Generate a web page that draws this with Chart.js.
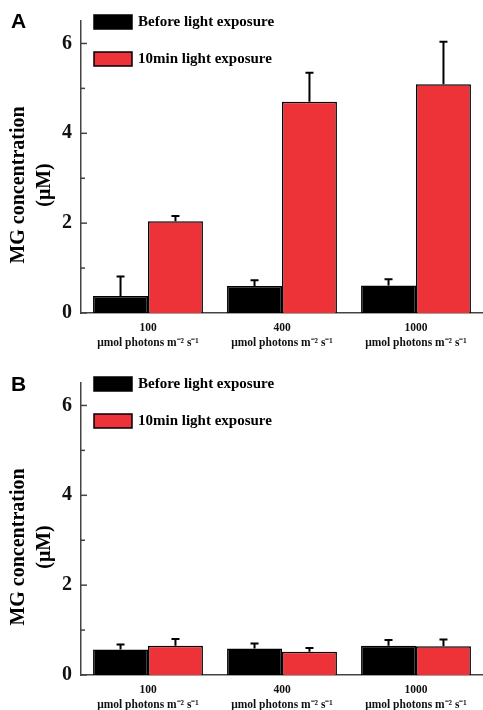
<!DOCTYPE html>
<html>
<head>
<meta charset="utf-8">
<script src="https://cdn.jsdelivr.net/npm/chart.js@4.4.1/dist/chart.umd.min.js"></script>
<style>
	body { margin: 0; background: #fff; }
	canvas { display: block; }
</style>
</head>
<body>
<canvas id="canvasA" width="483" height="362"></canvas>
<canvas id="canvasB" width="483" height="348"></canvas>
<script>
"use strict"

// data
var categories = ["100", "400", "1000"]
var unitLabel = "μmol photons m⁻² s⁻¹"
var seriesNames = ["Before light exposure", "10min light exposure"]
var yMajorTicks = [0, 2, 4, 6]
var yMinorTicks = [1, 3, 5]
var yTitle = ["MG concentration", "(μM)"]

// panel A
var beforeA = [0.38, 0.60, 0.61]
var beforeErrA = [0.43, 0.13, 0.14]
var afterA = [2.04, 4.70, 5.09]
var afterErrA = [0.12, 0.65, 0.95]

// panel B
var beforeB = [0.57, 0.59, 0.65]
var beforeErrB = [0.11, 0.11, 0.13]
var afterB = [0.65, 0.52, 0.64]
var afterErrB = [0.15, 0.08, 0.15]

var barColors = ["#000000", "#ed3238"]
var serif = "'Liberation Serif', 'Times New Roman', serif"

// custom drawing: error bars, inward ticks, legend, panel letter, y title
var decorPlugin = {
	id: "decor",
	afterDatasetsDraw: function (chart) {
		const ctx = chart.ctx
		const yScale = chart.scales.y
		ctx.save()
		ctx.strokeStyle = "#000"
		ctx.lineWidth = 2
		chart.data.datasets.forEach(function (ds, di) {
			const meta = chart.getDatasetMeta(di)
			meta.data.forEach(function (bar, i) {
				const yTop = yScale.getPixelForValue(ds.data[i] + ds.errors[i])
				ctx.beginPath()
				ctx.moveTo(bar.x, bar.y)
				ctx.lineTo(bar.x, yTop)
				ctx.moveTo(bar.x - 4, yTop)
				ctx.lineTo(bar.x + 4, yTop)
				ctx.stroke()
			})
		})
		ctx.restore()
	},
	afterDraw: function (chart) {
		const ctx = chart.ctx
		const yScale = chart.scales.y
		const area = chart.chartArea
		const opts = chart.options.plugins.decor
		ctx.save()

		// ticks pointing into the plot
		ctx.strokeStyle = "#444"
		ctx.lineWidth = 1.5
		yMajorTicks.forEach(function (v) {
			const y = yScale.getPixelForValue(v)
			ctx.beginPath()
			ctx.moveTo(area.left, y)
			ctx.lineTo(area.left + 6, y)
			ctx.stroke()
		})
		yMinorTicks.forEach(function (v) {
			const y = yScale.getPixelForValue(v)
			ctx.beginPath()
			ctx.moveTo(area.left, y)
			ctx.lineTo(area.left + 4, y)
			ctx.stroke()
		})

		// legend
		ctx.textBaseline = "middle"
		ctx.textAlign = "left"
		ctx.font = "bold 15px " + serif
		chart.data.datasets.forEach(function (ds, di) {
			const top = 15 + di * 37
			ctx.fillStyle = ds.backgroundColor
			ctx.fillRect(94, top, 38, 14)
			ctx.strokeStyle = "#000"
			ctx.lineWidth = 1.5
			ctx.strokeRect(94, top, 38, 14)
			ctx.fillStyle = "#000"
			ctx.fillText(ds.label, 138, top + 7)
		})

		// panel letter
		ctx.font = "bold 21px 'Liberation Sans', Arial, sans-serif"
		ctx.fillText(opts.letter, 11, opts.letterY)

		// y axis title
		ctx.font = "bold 20px " + serif
		ctx.textAlign = "center"
		ctx.translate(0, 185)
		ctx.rotate(-Math.PI / 2)
		ctx.fillText(yTitle[0], 0, 19)
		ctx.fillText(yTitle[1], 0, 45)
		ctx.restore()
	}
}

function BuildPanel(canvasId, before, beforeErr, after, afterErr, letter, letterY, xHeight) {
	const context = document.getElementById(canvasId).getContext("2d")
	return new Chart(context, {
		type: "bar",
		data: {
			labels: categories.map(function (c) { return [c, unitLabel] }),
			datasets: [{
				label: seriesNames[0],
				data: before,
				errors: beforeErr,
				backgroundColor: barColors[0],
				borderColor: "#000",
				borderWidth: 1.5
			}, {
				label: seriesNames[1],
				data: after,
				errors: afterErr,
				backgroundColor: barColors[1],
				borderColor: "#000",
				borderWidth: 1.5
			}]
		},
		options: {
			responsive: false,
			animation: false,
			devicePixelRatio: 1,
			layout: { padding: { top: 14, left: 0, right: 0, bottom: 0 } },
			categoryPercentage: 0.82,
			barPercentage: 1.0,
			plugins: {
				legend: { display: false },
				tooltip: { enabled: false },
				decor: { letter: letter, letterY: letterY }
			},
			scales: {
				x: {
					grid: { display: false, drawTicks: false },
					border: { display: true, color: "#444", width: 1.5 },
					ticks: {
						color: "#111",
						padding: 8,
						maxRotation: 0,
						autoSkip: false,
						font: { family: serif, size: 11.5, weight: "bold", lineHeight: 1.3 }
					},
					afterFit: function (scale) { scale.height = xHeight }
				},
				y: {
					min: 0,
					max: 6.5,
					grid: { display: false, drawTicks: false },
					border: { display: true, color: "#444", width: 1.5 },
					ticks: {
						stepSize: 1,
						includeBounds: false,
						color: "#111",
						padding: 9,
						font: { family: serif, size: 20, weight: "bold" },
						callback: function (value) {
							return value % 2 === 0 ? value : ""
						}
					},
					afterFit: function (scale) { scale.width = 81 }
				}
			}
		},
		plugins: [decorPlugin]
	})
}

BuildPanel("canvasA", beforeA, beforeErrA, afterA, afterErrA, "A", 22, 49)
BuildPanel("canvasB", beforeB, beforeErrB, afterB, afterErrB, "B", 23, 35)
</script>
</body>
</html>
